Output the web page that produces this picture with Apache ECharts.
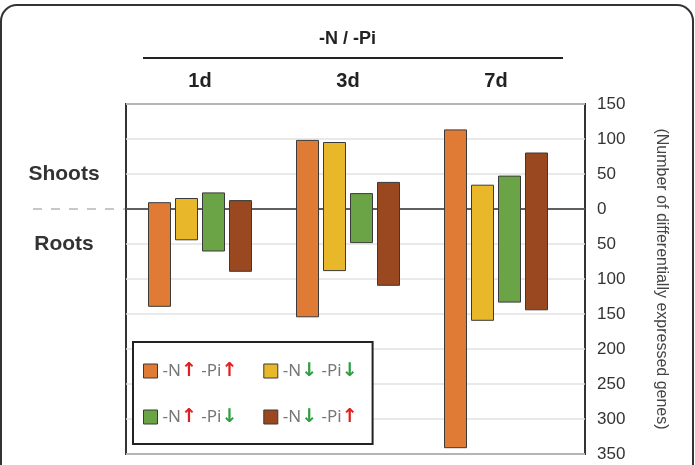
<!DOCTYPE html>
<html>
<head>
<meta charset="utf-8">
<script src="https://cdn.jsdelivr.net/npm/echarts@6/dist/echarts.min.js"></script>
<style>
  html, body { margin: 0; padding: 0; background: #fff; }
  #chart { width: 695px; height: 465px; }
</style>
</head>
<body>
<div id="chart"></div>
<script>
// days and the span of each bar: positive = shoots, negative = roots
const days = ["1d", "3d", "7d"];
const seriesNames = ["-N↑ -Pi↑", "-N↓ -Pi↓", "-N↑ -Pi↓", "-N↓ -Pi↑"];
const seriesColors = ["#E07B35", "#E9B82A", "#6AA446", "#9A4820"];
const upUpHigh = [9, 98, 113];
const upUpLow = [-139, -154, -341];
const downDownHigh = [15, 95, 34];
const downDownLow = [-44, -88, -159];
const upDownHigh = [23, 22, 47];
const upDownLow = [-60, -48, -133];
const downUpHigh = [12, 38, 80];
const downUpLow = [-89, -109, -144];
const yTicks = [-350, 150, 50];

const highs = [upUpHigh, downDownHigh, upDownHigh, downUpHigh];
const lows = [upUpLow, downDownLow, upDownLow, downUpLow];

const chart = echarts.init(document.getElementById("chart"));
const font = "Liberation Sans";

function makeRender(k) {
    return function (params, api) {
        const c = api.value(0);
        const lo = api.coord([c, api.value(1)]);
        const hi = api.coord([c, api.value(2)]);
        const band = api.size([1, 0])[0];
        const step = band * 27 / 148;
        const w = band * 22 / 148;
        const x = lo[0] + (k - 1.5) * step - w / 2;
        return {
            type: "rect",
            shape: { x: x, y: hi[1], width: w, height: lo[1] - hi[1] },
            style: api.style({ stroke: "#3a3a3a", lineWidth: 1 })
        };
    };
}

const series = seriesNames.map((name, k) => ({
    type: "custom",
    name: name,
    xAxisIndex: 0,
    yAxisIndex: 0,
    itemStyle: { color: seriesColors[k], borderColor: "#3a3a3a", borderWidth: 1 },
    renderItem: makeRender(k),
    data: days.map((d, i) => [i, lows[k][i], highs[k][i]]),
    z: 3
}));

const option = {
    animation: false,
    title: {
        text: "-N / -Pi",
        left: "center",
        top: 25,
        textStyle: { fontFamily: font, fontSize: 18, fontWeight: "bold", color: "#222" }
    },
    grid: [
        { left: 126, top: 104, width: 444, height: 350 },
        { left: 126, top: 104, width: 459, height: 350, show: true, borderColor: "#333", borderWidth: 2 }
    ],
    xAxis: [
        {
            type: "category", gridIndex: 0, position: "top", data: days,
            axisLine: { show: false }, axisTick: { show: false },
            axisLabel: { margin: 13, fontFamily: font, fontSize: 20, fontWeight: "bold", color: "#222" }
        },
        {
            type: "value", gridIndex: 1, min: 0, max: 1,
            axisLine: { show: true, onZero: true, lineStyle: { color: "#333", width: 1.5 } },
            axisTick: { show: false }, axisLabel: { show: false }, splitLine: { show: false }
        }
    ],
    yAxis: [
        { type: "value", gridIndex: 0, min: yTicks[0], max: yTicks[1], show: false },
        {
            type: "value", gridIndex: 1, position: "right",
            min: yTicks[0], max: yTicks[1], interval: yTicks[2],
            axisLine: { show: false }, axisTick: { show: false },
            axisLabel: {
                margin: 12, fontFamily: font, fontSize: 17, color: "#333",
                formatter: v => String(Math.abs(v))
            },
            splitLine: { lineStyle: { color: "#e2e2e2", width: 1.5 } },
            name: "(Number of differentially expressed genes)",
            nameLocation: "middle", nameRotate: -90, nameGap: 68,
            nameTextStyle: { fontFamily: font, fontSize: 16, color: "#444" }
        },
        {
            type: "value", gridIndex: 1, position: "left",
            min: yTicks[0], max: yTicks[1], interval: yTicks[2],
            axisLine: { show: false }, axisTick: { show: false }, splitLine: { show: false },
            axisLabel: {
                margin: 62, align: "center", fontFamily: font, fontSize: 21,
                fontWeight: "bold", color: "#333",
                formatter: v => (v === 50 ? "Shoots" : v === -50 ? "Roots" : "")
            }
        }
    ],
    legend: {
        left: 133, top: 342, width: 234,
        padding: [19, 15, 17, 10],
        borderColor: "#222", borderWidth: 2,
        backgroundColor: "#fff",
        icon: "rect", itemWidth: 14, itemHeight: 14, itemGap: 26,
        itemStyle: { borderColor: "#3a3a3a", borderWidth: 1 },
        data: seriesNames,
        formatter: name => name.replace(/↑/g, "{up|↑}").replace(/↓/g, "{dn|↓}"),
        textStyle: {
            fontFamily: "Noto Sans", fontSize: 17, color: "#777", lineHeight: 20,
            rich: {
                up: { fontFamily: "DejaVu Sans", fontSize: 19, fontWeight: "bold", color: "#E02020" },
                dn: { fontFamily: "DejaVu Sans", fontSize: 19, fontWeight: "bold", color: "#2EA043" }
            }
        }
    },
    series: series
};

chart.setOption(option);

const zeroY = chart.convertToPixel({ yAxisIndex: 1 }, 0);
chart.setOption({
    graphic: [
        {
            type: "rect", silent: true,
            shape: { x: 1, y: 5, width: 692, height: 520, r: 16 },
            style: { fill: "none", stroke: "#333", lineWidth: 2 }
        },
        {
            type: "line", silent: true,
            shape: { x1: 143, y1: 58, x2: 563, y2: 58 },
            style: { stroke: "#222", lineWidth: 2 }
        },
        {
            type: "line", silent: true,
            shape: { x1: 33, y1: zeroY, x2: 125, y2: zeroY },
            style: { stroke: "#c8c8c8", lineWidth: 2, lineDash: [9, 9] }
        }
    ]
});
</script>
</body>
</html>
